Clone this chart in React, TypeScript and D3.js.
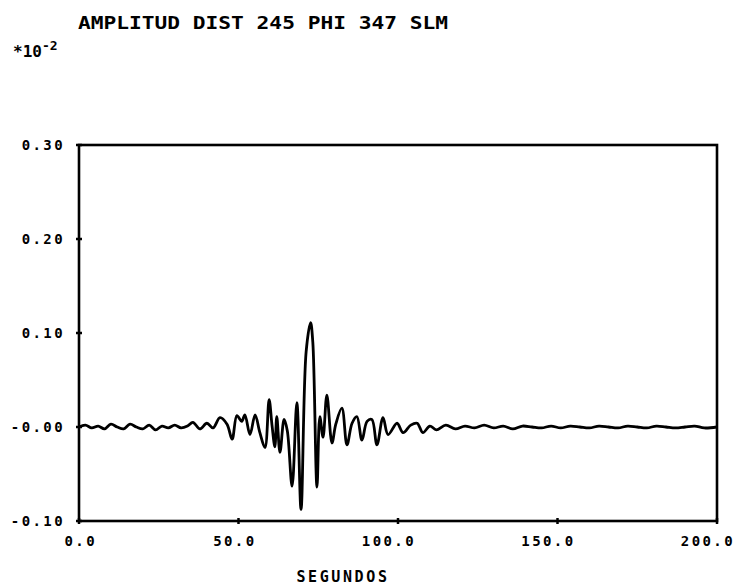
import React from "react";
import * as d3 from "d3";

const TITLE = "AMPLITUD  DIST 245  PHI 347  SLM";
const X_LABEL = "SEGUNDOS";
const xTicks = [0, 50, 100, 150, 200];
const xTickLabels = ["0.0", "50.0", "100.0", "150.0", "200.0"];
const yTicks = [0.3, 0.2, 0.1, 0.0, -0.1];
const yTickLabels = ["0.30", "0.20", "0.10", "-0.00", "-0.10"];

// time (s) and amplitude (x10^-2)
const times = [
  0, 2, 4, 6, 8, 10, 12, 14, 16, 18, 20, 22, 24, 26, 28, 30, 32, 34,
  35.7, 37.9, 40.1, 42, 44.2, 46.4, 48, 49.5, 51, 52, 53.6, 55.2, 56.7, 58.3,
  59.6, 60.5, 61.4, 62, 63, 64.3, 65.3, 66.8, 68.3, 69.6, 71.2, 72.6, 73.3,
  74.6, 75.5, 76.5, 77.7, 79.3, 80.5, 82.4, 84, 85.6, 87.1, 88.7, 90.3, 91.8,
  93.4, 95.3, 96.9, 99.7, 101.6, 104, 106, 107.8, 110, 112, 115, 118, 121,
  124, 127, 130, 133, 136, 139, 142, 145, 148, 151, 154, 157, 160, 163, 166,
  169, 172, 175, 178, 181, 184, 187, 190, 193, 196, 200,
];
const values = [
  0.0, 0.002, -0.001, 0.001, -0.002, 0.003, 0.0, -0.002, 0.003, 0.0, -0.002,
  0.002, -0.003, 0.001, -0.001, 0.002, -0.001, 0.001,
  0.005, -0.002, 0.004, -0.001, 0.01, 0.003, -0.013, 0.012, 0.006, 0.013,
  -0.008, 0.013, -0.006, -0.022, 0.029, 0.002, -0.021, 0.011, -0.027, 0.008,
  -0.004, -0.063, 0.026, -0.088, 0.08, 0.111, 0.09, -0.064, 0.011, -0.011,
  0.034, -0.017, 0.003, 0.02, -0.019, 0.004, 0.011, -0.014, 0.006, 0.008,
  -0.019, 0.01, -0.008, 0.004, -0.006, 0.002, 0.004, -0.006, 0.001, -0.003,
  0.002, -0.002, 0.001, -0.001, 0.002, -0.001, 0.001, -0.002, 0.001, 0.0,
  -0.001, 0.001, -0.001, 0.001, 0.0, -0.001, 0.001, 0.0, -0.001, 0.001, 0.0,
  -0.001, 0.001, 0.0, -0.001, 0.0, 0.001, -0.001, 0.0,
];

const W = 736;
const H = 587;
const left = 79;
const right = 717;
const top = 145;
const bottom = 521;

export default function App() {
  const x = d3.scaleLinear().domain([0, 200]).range([left, right]);
  const y = d3.scaleLinear().domain([-0.1, 0.3]).range([bottom, top]);
  const pts: [number, number][] = times.map((t, i) => [t, values[i]]);
  const line = d3
    .line<[number, number]>()
    .x((d) => x(d[0]))
    .y((d) => y(d[1]))
    .curve(d3.curveCatmullRom.alpha(0.5));

  const font = "'DejaVu Sans Mono', monospace";
  return (
    <svg
      width={W}
      height={H}
      style={{ position: "absolute", left: 0, top: 0, background: "#fff" }}
      fontFamily={font}
      fontWeight="bold"
    >
      <rect x={0} y={0} width={W} height={H} fill="#fff" />
      <text x={78} y={29} fontSize={18} textLength={370} lengthAdjust="spacingAndGlyphs">
        {TITLE}
      </text>
      <text x={13} y={57} fontSize={16}>
        *10
        <tspan dy={-7} fontSize={13}>-2</tspan>
      </text>
      <rect
        x={left}
        y={top}
        width={right - left}
        height={bottom - top}
        fill="none"
        stroke="#000"
        strokeWidth={2.6}
      />
      {yTicks.map((t, i) => (
        <g key={"y" + i}>
          <line x1={left - 3} x2={left + 3} y1={y(t)} y2={y(t)} stroke="#000" strokeWidth={2.5} />
          <text x={65} y={y(t)} dy="0.36em" fontSize={14} textAnchor="end" letterSpacing={2.4}>
            {yTickLabels[i]}
          </text>
        </g>
      ))}
      {xTicks.map((t, i) => (
        <g key={"x" + i}>
          <line x1={x(t)} x2={x(t)} y1={bottom - 3} y2={bottom + 3} stroke="#000" strokeWidth={2.5} />
          <text x={x(t) + 18} y={546} fontSize={14} textAnchor="end" letterSpacing={2.4}>
            {xTickLabels[i]}
          </text>
        </g>
      ))}
      <text x={343} y={582} fontSize={15} textAnchor="middle" letterSpacing={2.6}>
        {X_LABEL}
      </text>
      <path d={line(pts) || ""} fill="none" stroke="#000" strokeWidth={2.8} strokeLinejoin="round" />
    </svg>
  );
}
